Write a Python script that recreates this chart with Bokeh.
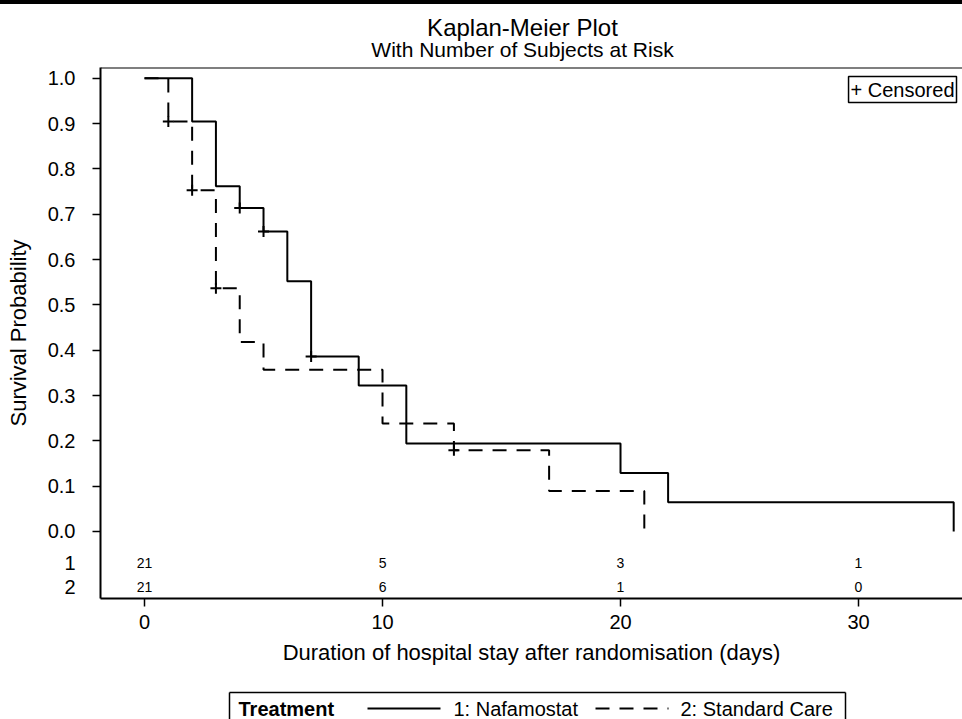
from bokeh.plotting import figure
from bokeh.layouts import column
from bokeh.models import (Range1d, FixedTicker, Label, Span, Div, NumeralTickFormatter)
from bokeh.core.properties import value
from bokeh.embed import file_html
from bokeh.resources import INLINE

# ---------------- data ----------------
naf_time = [0, 2, 3, 4, 5, 6, 7, 9, 11, 20, 22, 34]
naf_surv = [1.0, 0.905, 0.762, 0.714, 0.662, 0.552, 0.386, 0.322, 0.194, 0.129, 0.0645, 0.0]
std_time = [0, 1, 2, 3, 4, 5, 10, 13, 17, 21]
std_surv = [1.0, 0.905, 0.753, 0.537, 0.418, 0.357, 0.238, 0.179, 0.089, 0.0]

naf_cens_time = [4, 5, 7]
naf_cens_surv = [0.714, 0.662, 0.386]
std_cens_time = [1, 2, 3, 13]
std_cens_surv = [0.905, 0.753, 0.537, 0.179]

risk_times = [0, 10, 20, 30]
naf_at_risk = [21, 5, 3, 1]
std_at_risk = [21, 6, 1, 0]
group_labels = ["1", "2"]
series_labels = ["1: Nafamostat", "2: Standard Care"]
legend_title = "Treatment"
title_text = "Kaplan-Meier Plot"
subtitle_text = "With Number of Subjects at Risk"

x_ticks = [0, 10, 20, 30]
y_ticks = [0.0, 0.1, 0.2, 0.3, 0.4, 0.5, 0.6, 0.7, 0.8, 0.9, 1.0]

# ---------------- style / layout constants ----------------
FONT = "Liberation Sans"
W, H = 962, 719
FRAME_L = 100
FRAME_W, FRAME_H = 862, 531
TOPLINE_H = 4
TITLE_H = 59
STRIP_H = 35
MAIN_TOP = 4
MAIN_H = H - TOPLINE_H - TITLE_H - STRIP_H
X0, X1 = -1.85, 34.37
Y0, Y1 = -0.148, 1.024
ROW_Y = [-0.0706, -0.1236]
DASH = "14 10"


def strip(height):
    f = figure(width=W, height=height, output_backend="svg", toolbar_location=None,
               x_range=Range1d(FRAME_L, W), y_range=Range1d(0, height),
               x_axis_location=None, y_axis_location=None,
               min_border_left=FRAME_L, min_border_right=0,
               min_border_top=0, min_border_bottom=0)
    f.outline_line_color = None
    f.grid.visible = False
    f.background_fill_color = "white"
    f.border_fill_color = "white"
    return f


# ---------------- top rule ----------------
top_rule = Div(text="", width=W, height=TOPLINE_H, margin=0,
               styles={"background-color": "black"})

# ---------------- title strip (canvas pixel coordinates) ----------------
TOP = TITLE_H + TOPLINE_H
tt = strip(TITLE_H)
tt.text(x=[522], y=[TOP - 27], text=[title_text], text_align="center",
        text_baseline="alphabetic", text_font=value(FONT), text_font_size="24px",
        text_color="black")
tt.text(x=[522], y=[TOP - 49], text=[subtitle_text], text_align="center",
        text_baseline="alphabetic", text_font=value(FONT), text_font_size="21px",
        text_color="black")

# ---------------- main plot ----------------
p = figure(width=W, height=MAIN_H, output_backend="svg", toolbar_location=None,
           x_range=Range1d(X0, X1), y_range=Range1d(Y0, Y1),
           min_border_left=FRAME_L, min_border_right=0, min_border_top=MAIN_TOP,
           min_border_bottom=MAIN_H - MAIN_TOP - FRAME_H)
p.background_fill_color = "white"
p.border_fill_color = "white"
p.outline_line_color = None
p.grid.visible = False

for ax in (p.xaxis[0], p.yaxis[0]):
    ax.axis_line_width = 2
    ax.axis_line_color = "black"
    ax.major_tick_line_width = 1.5
    ax.major_tick_line_color = "black"
    ax.major_tick_out = 8
    ax.major_tick_in = 0
    ax.minor_tick_line_color = None
    ax.major_label_text_font = FONT
    ax.major_label_text_font_size = "20px"
    ax.major_label_text_color = "black"
    ax.axis_label_text_font = FONT
    ax.axis_label_text_font_size = "22px"
    ax.axis_label_text_font_style = "normal"
    ax.axis_label_text_color = "black"

p.xaxis.ticker = FixedTicker(ticks=x_ticks)
# y axis: probability ticks (tick marks drawn as "minor" ticks) plus the
# at-risk row labels "1" and "2" (label only, no tick mark)
p.yaxis.ticker = FixedTicker(ticks=ROW_Y + y_ticks, minor_ticks=y_ticks)
p.yaxis.formatter = NumeralTickFormatter(format="0.0")
p.yaxis.major_label_overrides = {ry: lab for ry, lab in zip(ROW_Y, group_labels)}
p.yaxis.major_tick_out = 0
p.yaxis.minor_tick_out = 8
p.yaxis.minor_tick_in = 0
p.yaxis.minor_tick_line_color = "black"
p.yaxis.minor_tick_line_width = 1.5
p.xaxis.major_label_standoff = 8
p.yaxis.major_label_standoff = 17
p.xaxis.axis_label = "Duration of hospital stay after randomisation (days)"
p.yaxis.axis_label = "Survival Probability"
p.xaxis.axis_label_standoff = 8
p.yaxis.axis_label_standoff = 14

# top frame line
p.add_layout(Span(location=Y1, dimension="width", line_color="black", line_width=2))

# survival curves
p.step(naf_time, naf_surv, mode="after", line_color="black", line_width=2)
p.step(std_time, std_surv, mode="after", line_color="black", line_width=2,
       line_dash=DASH)

# censored marks
p.scatter(naf_cens_time, naf_cens_surv, marker="cross", size=11,
          line_color="black", line_width=2)
p.scatter(std_cens_time, std_cens_surv, marker="cross", size=11,
          line_color="black", line_width=2)

# at-risk table
for ry, counts in zip(ROW_Y, [naf_at_risk, std_at_risk]):
    p.text(x=risk_times, y=[ry] * len(risk_times), text=[str(c) for c in counts],
           text_align="center", text_baseline="middle",
           text_font=value(FONT), text_font_size="14px", text_color="black")

# "+ Censored" box in the top-right corner
p.add_layout(Label(x=X1, y=Y1, x_offset=-6, y_offset=-9, text="+ Censored",
                   text_align="right", text_baseline="top",
                   text_font=FONT, text_font_size="20px", text_color="black",
                   border_line_color="black", border_line_width=1.5,
                   background_fill_color="white", padding=2))

# ---------------- bottom legend strip (canvas pixel coordinates) ----------------
lg = strip(STRIP_H)
BOX_L, BOX_R, BOX_T, BOX_B = 229, 845, 27, -2
TY = 11
lg.segment(x0=[BOX_L, BOX_L, BOX_R], y0=[BOX_T, BOX_B, BOX_B],
           x1=[BOX_R, BOX_L, BOX_R], y1=[BOX_T, BOX_T, BOX_T],
           line_color="black", line_width=1.5)
lg.text(x=[238], y=[TY], text=[legend_title], text_align="left", text_baseline="middle",
        text_font=value(FONT), text_font_size="20px", text_font_style="bold",
        text_color="black")
lg.line([367, 440], [TY, TY], line_color="black", line_width=2)
lg.line([595, 668], [TY, TY], line_color="black", line_width=2, line_dash=DASH)
lg.text(x=[453, 680], y=[TY, TY], text=series_labels, text_align="left",
        text_baseline="middle", text_font=value(FONT), text_font_size="20px",
        text_color="black")

layout = column(top_rule, tt, p, lg, spacing=0)
open("out.html", "w").write(file_html(layout, INLINE))
